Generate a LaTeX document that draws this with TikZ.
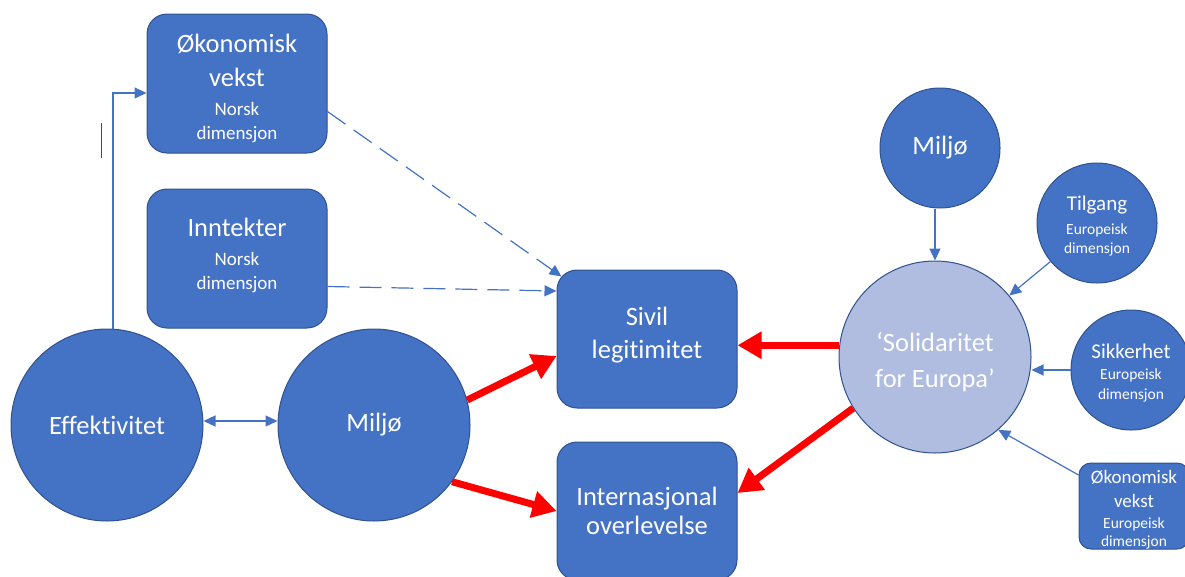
\documentclass[tikz,border=0pt]{standalone}
\usepackage{fontspec}
\setmainfont{Carlito}[Ligatures={TeX,NoCommon}]
\usepackage{tikz}
\usetikzlibrary{positioning,arrows.meta}

\definecolor{nodeblue}{HTML}{4472C4}
\definecolor{nodeedge}{HTML}{2F528F}
\definecolor{solidfill}{HTML}{B0BCE0}

\newcommand{\bigtxt}{\fontsize{26.5}{31}\selectfont}
\newcommand{\midtxt}{\fontsize{21}{24}\selectfont}
\newcommand{\smalltxt}{\fontsize{19}{24}\selectfont}
\newcommand{\smallertxt}{\fontsize{19}{18}\selectfont}
\newcommand{\tinytxt}{\fontsize{15.5}{19}\selectfont}
\newcommand{\pushdown}[1]{\rule{0pt}{#1}}

\begin{document}
\begin{tikzpicture}[x=1pt,y=-1pt,>={Triangle[length=12pt,width=11pt]},
	pbox/.style={rectangle,rounded corners=20pt,fill=nodeblue,draw=nodeedge,line width=1pt,text=white,align=center,minimum width=180pt,minimum height=139pt,inner sep=0pt},
	pball/.style={circle,fill=nodeblue,draw=nodeedge,line width=1pt,text=white,align=center,inner sep=0pt},
	link/.style={->,draw=nodeblue,line width=1.2pt},
	dashlink/.style={link,dash pattern=on 22pt off 10pt},
	fatarrow/.style={-{Triangle[length=24pt,width=26pt]},draw=red,line width=7pt}]
	\useasboundingbox (0,0) rectangle (1185,576);

	% left side
	\node[pbox,font=\smalltxt] (okn) at (237,83.5) {\pushdown{28pt}\bigtxt Økonomisk\\[10pt]\bigtxt vekst\\[5pt]Norsk\\dimensjon};
	\node[pbox,font=\smalltxt] (inn) [below=35pt of okn] {\bigtxt Inntekter\\[5pt]Norsk\\dimensjon\\[-14pt]};
	\node[pball,font=\bigtxt,minimum size=192pt] (eff) at (107,425) {Effektivitet};
	\node[pball,font=\bigtxt,minimum size=192pt] (milj) [right=74pt of eff] {Miljø};

	% middle
	\node[pbox,font=\bigtxt,minimum height=138pt] (sivil) at (647,339) {Sivil\\[2pt]legitimitet\\[-19pt]};
	\node[pbox,font=\bigtxt,minimum height=138pt] (intern) [below=33pt of sivil] {Internasjonal\\[-2pt]overlevelse};

	% right side
	\node[pball,font=\bigtxt,fill=solidfill,minimum size=192pt] (solid) at (935,357) {\pushdown{30pt}‘Solidaritet\\[5pt]for Europa’};
	\node[pball,font=\bigtxt,minimum size=120pt] (miljoR) at (940,148) {Miljø};
	\node[pball,font=\tinytxt,minimum size=120pt] (tilgang) at (1097,223) {\pushdown{20pt}\midtxt Tilgang\\[5pt]Europeisk\\dimensjon};
	\node[pball,font=\tinytxt,minimum size=120pt] (sikk) at (1131,370) {\pushdown{20pt}\midtxt Sikkerhet\\[2pt]Europeisk\\[1pt]dimensjon};
	\node[pbox,font=\smallertxt,rounded corners=12pt,minimum width=110pt,minimum height=86pt] (okeu) at (1134,506) {\pushdown{20pt}Økonomisk\\[6pt]vekst\\[3pt]\tinytxt Europeisk\\\tinytxt dimensjon};

	% connectors
	\draw[link] ([xshift=6pt]eff.north) |- ([yshift=-9.5pt]okn.west);
	\draw[link,<->] ([yshift=4pt]eff.east) -- ([yshift=4pt]milj.west);
	\draw[dashlink] ([yshift=-28pt]okn.east) -- ([shift={(5pt,-7pt)}]sivil.north west);
	\draw[dashlink] ([yshift=-28pt]inn.east) -- ([yshift=48pt]sivil.west);
	\draw[fatarrow] (milj.15) -- ([yshift=-17pt]sivil.west);
	\draw[fatarrow] (milj.-36) -- (intern.west);
	\draw[fatarrow] (solid.173) -- (sivil.east |- solid.173);
	\draw[fatarrow] (solid.212) -- ([yshift=18pt]intern.east);
	\draw[link] (miljoR.south -| solid.north) -- (solid.north);
	\draw[link] (tilgang) -- (solid);
	\draw[link] (sikk) -- (sikk -| solid.east);
	\draw[link] ([yshift=31pt]okeu.west) -- (solid.-49);

	% stray mark
	\draw[gray!60!black,line width=0.8pt] (101,123) -- (101,158);
\end{tikzpicture}
\end{document}
